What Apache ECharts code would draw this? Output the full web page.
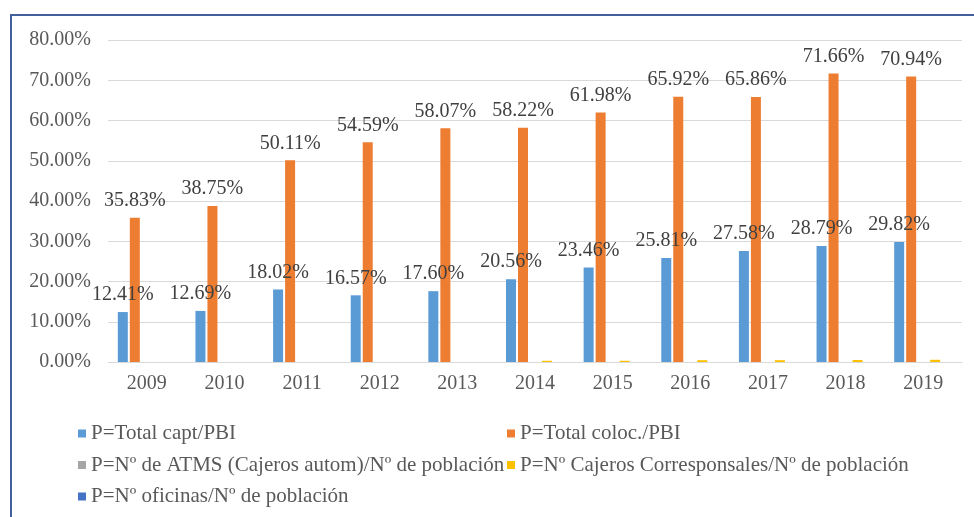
<!DOCTYPE html>
<html>
    <head>
        <meta charset="utf-8">
        <title>P por año</title>
        <script src="https://cdn.jsdelivr.net/npm/echarts@6/dist/echarts.min.js"></script>
        <style>
            html, body { margin: 0; padding: 0; background: #fff; }
            #chart1 { width: 974px; height: 517px; }
        </style>
    </head>
    <body>
        <div id="chart1"></div>
        <script type="text/javascript">
            // categorias (años)
            const years = ['2009', '2010', '2011', '2012', '2013', '2014', '2015', '2016', '2017', '2018', '2019'];
            // valores en %
            const captPBI = [12.41, 12.69, 18.02, 16.57, 17.60, 20.56, 23.46, 25.81, 27.58, 28.79, 29.82];
            const colocPBI = [35.83, 38.75, 50.11, 54.59, 58.07, 58.22, 61.98, 65.92, 65.86, 71.66, 70.94];
            const atmsPob = [0, 0, 0, 0, 0, 0, 0, 0, 0, 0, 0];
            const corresponsalesPob = [0, 0, 0, 0, 0, 0.3, 0.3, 0.45, 0.45, 0.5, 0.55];
            const oficinasPob = [0, 0, 0, 0, 0, 0, 0, 0, 0, 0, 0];
            const yTicks = [0, 10, 20, 30, 40, 50, 60, 70, 80];

            const names = [
                'P=Total capt/PBI',
                'P=Total coloc./PBI',
                'P=Nº de ATMS (Cajeros autom)/Nº de población',
                'P=Nº Cajeros Corresponsales/Nº de población',
                'P=Nº oficinas/Nº de población'
            ];
            const colors = ['#5B9BD5', '#ED7D31', '#A5A5A5', '#FFC000', '#4472C4'];
            const serif = '"Liberation Serif", "Times New Roman", serif';

            let myChart1 = echarts.init(document.getElementById('chart1'));

            // etiqueta encima de la barra
            const lbl = {
                show: true,
                position: 'top',
                distance: 7,
                fontFamily: serif,
                fontSize: 20,
                color: '#404040',
                formatter: p => p.value.toFixed(2) + '%'
            };

            function bar(i, data, withLabel) {
                return {
                    name: names[i],
                    type: 'bar',
                    data: data,
                    barWidth: 10,
                    barGap: '20%',
                    itemStyle: { color: colors[i] },
                    label: withLabel ? lbl : { show: false },
                    emphasis: { disabled: true }
                };
            }

            const legendText = { fontFamily: serif, fontSize: 21, color: '#595959' };

            myChart1.setOption({
                animation: false,
                color: colors,
                graphic: [{
                    type: 'rect',
                    shape: { x: 11, y: 15, width: 990, height: 540 },
                    style: { fill: 'none', stroke: '#44609A', lineWidth: 2 },
                    silent: true
                }],
                grid: { left: 108, right: 12, top: 40, bottom: 155, containLabel: false },
                legend: [{
                    orient: 'vertical',
                    left: 78,
                    top: 423,
                    padding: 0,
                    itemWidth: 8,
                    itemHeight: 8,
                    itemGap: 10.5,
                    icon: 'rect',
                    textStyle: legendText,
                    data: [names[0], names[2], names[4]]
                }, {
                    orient: 'vertical',
                    left: 507,
                    top: 423,
                    padding: 0,
                    itemWidth: 8,
                    itemHeight: 8,
                    itemGap: 10.5,
                    icon: 'rect',
                    textStyle: legendText,
                    data: [names[1], names[3]]
                }],
                xAxis: {
                    type: 'category',
                    data: years,
                    axisLine: { lineStyle: { color: '#D9D9D9', width: 1 } },
                    axisTick: { show: false },
                    axisLabel: { fontFamily: serif, fontSize: 20, color: '#595959', margin: 12 }
                },
                yAxis: {
                    type: 'value',
                    min: yTicks[0],
                    max: yTicks[yTicks.length - 1],
                    interval: 10,
                    axisLine: { show: false },
                    axisTick: { show: false },
                    splitLine: { lineStyle: { color: '#D9D9D9', width: 1 } },
                    axisLabel: {
                        fontFamily: serif, fontSize: 20, color: '#595959', margin: 17,
                        formatter: v => v.toFixed(2) + '%'
                    }
                },
                series: [
                    bar(0, captPBI, true),
                    bar(1, colocPBI, true),
                    bar(2, atmsPob, false),
                    bar(3, corresponsalesPob, false),
                    bar(4, oficinasPob, false)
                ]
            });
        </script>
    </body>
</html>
